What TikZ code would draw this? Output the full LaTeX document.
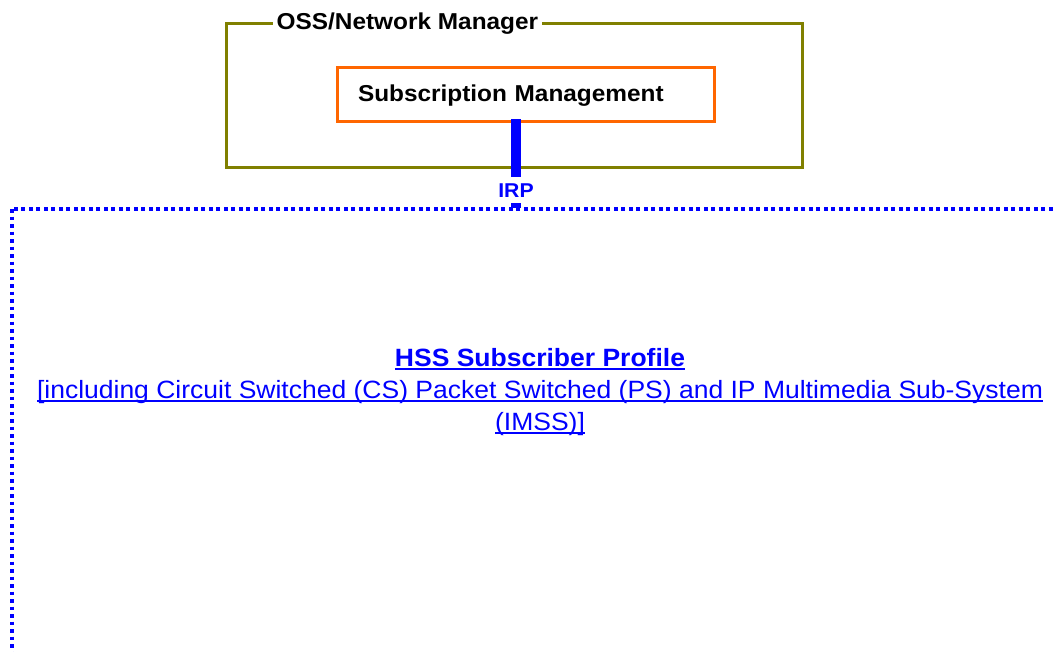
\documentclass[tikz,border=0pt]{standalone}
\usepackage{fontspec}
\setmainfont[FakeStretch=1.06]{Liberation Sans}
\usepackage{xcolor}
\usepackage{tikz}
\usetikzlibrary{positioning}

\definecolor{mgrolive}{HTML}{808000}
\definecolor{smorange}{HTML}{FF6600}
\definecolor{irpblue}{HTML}{0000FF}
\newsavebox{\hssulbox}
\newcommand{\hssul}[1]{\sbox{\hssulbox}{#1}\rlap{\rule[-3.2pt]{\wd\hssulbox}{1.6pt}}\usebox{\hssulbox}}

\begin{document}
\begin{tikzpicture}[x=1pt,y=-1pt,node distance=1cm,thin]
                \tikzset{mgrbox/.style={draw=mgrolive, line width=3pt, minimum width=576pt, minimum height=144pt, inner sep=0pt},
                         mgrtitle/.style={fill=white, inner xsep=4pt, text height=17.5pt, text depth=1pt, font=\fontsize{23}{26}\selectfont\bfseries},
                         smbox/.style={draw=smorange, line width=3pt, text width=335pt, inner xsep=21pt, minimum height=54pt, text height=15.5pt, text depth=1pt, align=left, font=\fontsize{23}{26}\selectfont\bfseries},
                         irpbar/.style={draw=irpblue, line width=10pt},
                         irplabel/.style={fill=white, text=irpblue, inner xsep=2pt, inner ysep=6pt, font=\fontsize{20}{22}\selectfont\bfseries},
                         hssframe/.style={draw=irpblue, line width=3.7pt, dash pattern=on 3.7pt off 3.8pt},
                         hsstext/.style={text=irpblue, align=center, font=\fontsize{25}{32}\selectfont}}
                \useasboundingbox (0,0) rectangle (1056,651);
                \clip (0,0) rectangle (1056,651);

                \node[mgrbox] (oss) at (514,95) {};
                \node[mgrtitle] (osstitle) [right=48pt of oss.north west] {OSS/Network Manager};
                \node[smbox] (sm) at (525.5,94) {Subscription Management};

                \coordinate (irptop) at (516,119);
                \coordinate (irpbot) at (516,208);
                \path[hssframe] (12,209) rectangle (1090,690);
                \path[irpbar] (irptop) -- node[irplabel, pos=0.8] (irp) {IRP} (irpbot);

                \node[hsstext] (hss) at (540,392) {\hssul{\bfseries HSS Subscriber Profile}\\
                    \hssul{[including Circuit Switched (CS) Packet Switched (PS) and IP Multimedia Sub-System}\\
                    \hssul{(IMSS)]}};
            \end{tikzpicture}
\end{document}
